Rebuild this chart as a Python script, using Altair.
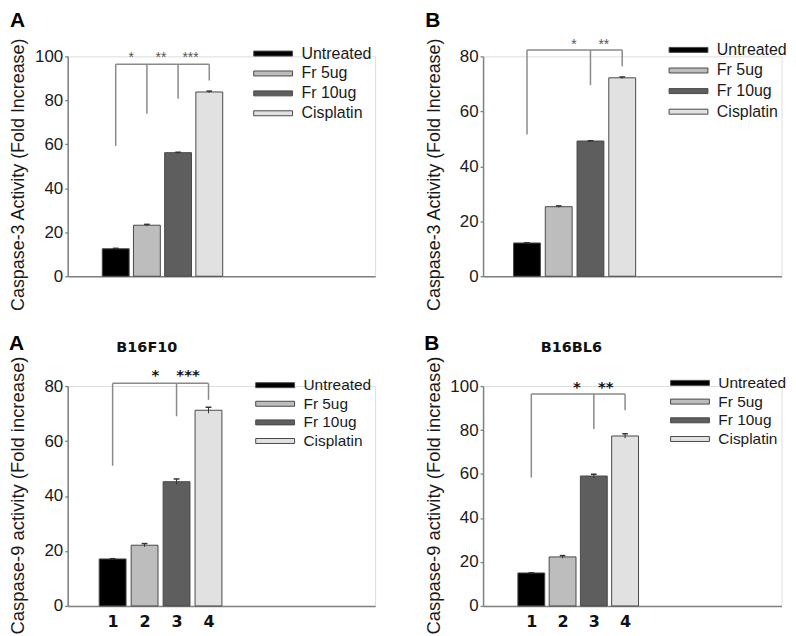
import altair as alt
import pandas as pd

# ---------------- data ----------------
groups = ["Untreated", "Fr 5ug", "Fr 10ug", "Cisplatin"]
colors = ["#000000", "#bdbdbd", "#5e5e5e", "#e1e1e1"]
positions = [1, 2, 3, 4]

# Caspase-3, panel A (top-left)
c3a_mean = [12.5, 23.2, 56.2, 83.8]
c3a_err = [0.2, 0.4, 0.2, 0.4]
# Caspase-3, panel B (top-right)
c3b_mean = [12.1, 25.3, 49.2, 72.2]
c3b_err = [0.1, 0.3, 0.1, 0.3]
# Caspase-9, B16F10 (bottom-left)
c9a_mean = [17.1, 22.1, 45.2, 71.2]
c9a_err = [0.1, 0.6, 1.0, 1.1]
# Caspase-9, B16BL6 (bottom-right)
c9b_mean = [15.0, 22.3, 59.1, 77.3]
c9b_err = [0.1, 0.6, 0.8, 1.0]

# significance brackets (common top line + drop legs) and star labels
c3a_br_top = 96.4
c3a_br_pos = [1, 2, 3, 4]
c3a_br_low = [59.3, 73.9, 80.7, 89.0]
c3a_star_pos = [1.5, 2.45, 3.4]
c3a_star_y = 99.1
c3a_stars = ["*", "**", "***"]

c3b_br_top = 82.3
c3b_br_pos = [1, 3, 4]
c3b_br_low = [51.6, 69.5, 76.4]
c3b_star_pos = [2.48, 3.42]
c3b_star_y = 84.3
c3b_stars = ["*", "**"]

c9a_br_top = 81.0
c9a_br_pos = [1, 3, 4]
c9a_br_low = [51.0, 69.0, 75.0]
c9a_star_pos = [2.34, 3.36]
c9a_star_y = 84.0
c9a_stars = ["*", "***"]

c9b_br_top = 96.4
c9b_br_pos = [1, 3, 4]
c9b_br_low = [58.4, 80.5, 89.0]
c9b_star_pos = [2.46, 3.38]
c9b_star_y = 99.6
c9b_stars = ["*", "**"]

FONT = "Liberation Sans"
AXIS_GRAY = "#808080"
TXT = "#1a1a1a"
# wide flat swatch: 39 x 5 px with symbolSize 256
RECT_PATH = "M-2.44,-0.3125L2.44,-0.3125L2.44,0.3125L-2.44,0.3125Z"
HEIGHT = 221


def panel(mean, err, ymax, ytitle, letter, br_top, br_pos, br_low,
          st_pos, st_y, st_txt, width, first, step, leg_x, leg_y,
          leg_size, leg_pad, bottom, cell=None, cell_x=None, cell_y=None,
          title_offset=0, ytitle_size=18, ytitle_shift=0, ytitle_pad=7):
    lo = 1 - first / step
    hi = lo + width / step
    xs = alt.Scale(domain=[lo, hi], nice=False, zero=False)
    ys = alt.Scale(domain=[0, ymax], nice=False)
    if bottom:
        xaxis = alt.Axis(values=positions, format="d",
                         labelFontSize=16, labelFontWeight="bold", labelFont="DejaVu Sans",
                         labelColor="#111111", labelPadding=8, ticks=False, grid=False,
                         domainColor=AXIS_GRAY, domainWidth=1.5, title=None)
    else:
        xaxis = alt.Axis(labels=False, ticks=False, grid=False,
                         domainColor=AXIS_GRAY, domainWidth=1.5, title=None)
    yaxis = alt.Axis(values=list(range(0, ymax + 1, 20)), title=ytitle,
                     titleFontSize=ytitle_size, titleFontWeight="normal", titleFont=FONT,
                     titleColor=TXT, titlePadding=ytitle_pad,
                     titleY=HEIGHT / 2 + ytitle_shift,
                     labelFontSize=17, labelFont=FONT,
                     labelColor=TXT, labelPadding=2, tickSize=3, tickColor=AXIS_GRAY,
                     tickWidth=1.3, domainColor=AXIS_GRAY, domainWidth=1.5, grid=False,
                     minExtent=33, maxExtent=33)

    df = pd.DataFrame({"pos": positions, "group": groups, "mean": mean, "err": err})
    df["lo"] = df["mean"] - df["err"]
    df["hi"] = df["mean"] + df["err"]
    df["capl"] = df["pos"] - 0.09
    df["capr"] = df["pos"] + 0.09

    X = lambda f: alt.X(f, type="quantitative", scale=xs, axis=xaxis)
    Y = lambda f: alt.Y(f, type="quantitative", scale=ys, axis=yaxis)

    bars = alt.Chart(df).mark_bar(size=27, stroke="#4a4a4a", strokeWidth=1).encode(
        x=X("pos"), y=Y("mean"),
        fill=alt.Fill("group:N", scale=alt.Scale(domain=groups, range=colors),
                      legend=alt.Legend(orient="none", legendX=leg_x, legendY=leg_y,
                                        title=None, symbolType=RECT_PATH, symbolSize=256,
                                        symbolStrokeColor="#4a4a4a", symbolStrokeWidth=1,
                                        symbolOpacity=1, labelFontSize=leg_size,
                                        labelFont=FONT, labelColor=TXT, labelOffset=20,
                                        rowPadding=leg_pad, padding=0)))
    errs = alt.Chart(df).mark_rule(color="#333333", strokeWidth=1).encode(
        x=X("pos"), y=Y("lo"), y2="hi")
    caps = alt.Chart(df).mark_rule(color="#333333", strokeWidth=1.5).encode(
        x=X("capl"), x2="capr", y=Y("hi"))

    seg = [{"x1": br_pos[0], "x2": br_pos[-1], "y1": br_top, "y2": br_top}]
    for p, l in zip(br_pos, br_low):
        seg.append({"x1": p, "x2": p, "y1": l, "y2": br_top})
    bdf = pd.DataFrame(seg)
    brackets = alt.Chart(bdf).mark_rule(color="#8a8a8a", strokeWidth=1.5).encode(
        x=X("x1"), x2="x2", y=Y("y1"), y2="y2")

    sdf = pd.DataFrame({"x": st_pos, "y": [st_y] * len(st_pos), "t": st_txt})
    if bottom:
        stars = alt.Chart(sdf).mark_text(fontSize=15, fontWeight="bold", font="DejaVu Sans",
                                         color="#111111", baseline="middle").encode(
            x=X("x"), y=Y("y"), text="t:N")
    else:
        stars = alt.Chart(sdf).mark_text(fontSize=14, font=FONT, color="#555555",
                                         baseline="middle").encode(
            x=X("x"), y=Y("y"), text="t:N")

    layers = [bars, errs, caps, brackets, stars]
    if cell is not None:
        cdf = pd.DataFrame({"x": [cell_x], "y": [cell_y], "t": [cell]})
        layers.append(alt.Chart(cdf).mark_text(fontSize=14.5, fontWeight="bold",
                                               font="DejaVu Sans", color="#111111",
                                               baseline="middle").encode(
            x=X("x"), y=Y("y"), text="t:N"))

    return alt.layer(*layers).properties(
        width=width, height=HEIGHT,
        title=alt.Title(letter, anchor="start", fontSize=21, fontWeight="bold", font=FONT,
                        color="#000000", offset=title_offset))


tl = panel(c3a_mean, c3a_err, 100, "Caspase-3 Activity (Fold Increase)", "A",
           c3a_br_top, c3a_br_pos, c3a_br_low, c3a_star_pos, c3a_star_y, c3a_stars,
           width=309, first=44.7, step=32.4, leg_x=198, leg_y=-11.3, leg_size=16,
           leg_pad=3, bottom=False, title_offset=6, ytitle_size=18,
           ytitle_shift=8, ytitle_pad=7)
tr = panel(c3b_mean, c3b_err, 80, "Caspase-3 Activity (Fold Increase)", "B",
           c3b_br_top, c3b_br_pos, c3b_br_low, c3b_star_pos, c3b_star_y, c3b_stars,
           width=300, first=40.5, step=33.0, leg_x=198, leg_y=-15, leg_size=16,
           leg_pad=3.7, bottom=False, title_offset=6, ytitle_size=18,
           ytitle_shift=8, ytitle_pad=7)
bl = panel(c9a_mean, c9a_err, 80, "Caspase-9 activity (Fold increase)", "A",
           c9a_br_top, c9a_br_pos, c9a_br_low, c9a_star_pos, c9a_star_y, c9a_stars,
           width=309, first=41.5, step=33.2, leg_x=200, leg_y=-9.4, leg_size=15.5,
           leg_pad=1.7, bottom=True, cell="B16F10", cell_x=2.07, cell_y=94.0,
           title_offset=-14, ytitle_size=18.5, ytitle_shift=-1, ytitle_pad=7)
br = panel(c9b_mean, c9b_err, 100, "Caspase-9 activity (Fold increase)", "B",
           c9b_br_top, c9b_br_pos, c9b_br_low, c9b_star_pos, c9b_star_y, c9b_stars,
           width=300, first=45.0, step=32.5, leg_x=199.5, leg_y=-11.7, leg_size=15.5,
           leg_pad=1.8, bottom=True, cell="B16BL6", cell_x=2.28, cell_y=117.5,
           title_offset=-14, ytitle_size=18.5, ytitle_shift=-1, ytitle_pad=7)

chart = alt.concat(tl, tr, bl, br, columns=2, spacing={"row": 110.4, "column": 108.5},
                   bounds="flush").resolve_scale(
    x="independent", y="independent", fill="independent").resolve_legend(
    fill="independent").properties(
    padding={"left": 0, "top": 0, "right": 0, "bottom": 0}).configure_view(
    stroke=None).configure(font=FONT, background="white")

chart.save("out.html", embed_options={"renderer": "svg", "actions": False})
